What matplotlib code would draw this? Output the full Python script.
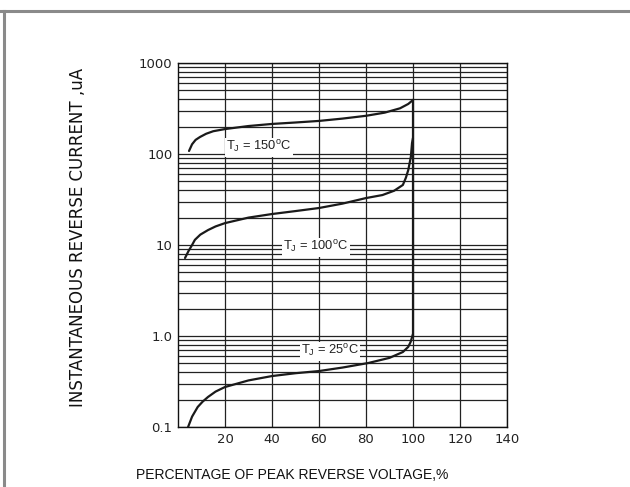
import matplotlib.pyplot as plt
from matplotlib.lines import Line2D
from matplotlib.ticker import FixedLocator, NullFormatter, LogLocator

# percentage of peak reverse voltage (%) and reverse current (uA)
x_150 = [4.7, 6.0, 7.5, 9.4, 12, 15, 20, 30, 40, 50, 60, 70, 80, 88, 94.5, 98, 100]
y_150 = [108, 128, 143, 154, 167, 178, 188, 203, 214, 222, 231, 245, 263, 285, 318, 355, 392]

x_100 = [3.0, 4.5, 6.0, 7.2, 9.5, 12.8, 16, 20, 30, 40, 50, 60, 70, 80, 87, 92, 95.7, 97, 98, 99.1, 99.6, 100]
y_100 = [7.2, 8.6, 10.0, 11.4, 13.0, 14.6, 16.0, 17.4, 20.0, 21.9, 23.6, 25.5, 28.5, 32.8, 35.4, 39.5, 45.7, 55, 66.7, 93, 132, 150]

x_25 = [4.3, 6.0, 8.4, 10.5, 12.8, 16, 20, 30, 40, 50, 60, 70, 81, 90, 95.7, 98, 99, 100]
y_25 = [0.1, 0.13, 0.166, 0.19, 0.214, 0.245, 0.275, 0.325, 0.363, 0.39, 0.412, 0.45, 0.505, 0.575, 0.667, 0.76, 0.86, 1.05]

# breakdown line at 100 %
x_bd = [100, 100]
y_bd = [1.0, 392]

labels = [r"T$_\mathregular{J}$ = 150$^\mathregular{o}$C",
          r"T$_\mathregular{J}$ = 100$^\mathregular{o}$C",
          r"T$_\mathregular{J}$ = 25$^\mathregular{o}$C"]
label_x = [34.5, 58.7, 64.7]
label_y = [119, 9.5, 0.68]

x_ticks = [20, 40, 60, 80, 100, 120, 140]
y_ticks = [0.1, 1, 10, 100, 1000]
y_ticklabels = ["0.1", "1.0", "10", "100", "1000"]

fig = plt.figure(figsize=(6.3, 4.87), dpi=100)
ax = fig.add_axes([0.2825, 0.1232, 0.5222, 0.7474])

ax.set_yscale("log")
ax.set_xlim(0, 140)
ax.set_ylim(0.1, 1000)

ax.xaxis.set_major_locator(FixedLocator(x_ticks))
ax.yaxis.set_major_locator(FixedLocator(y_ticks))
ax.yaxis.set_minor_locator(LogLocator(base=10, subs=range(2, 10)))
ax.yaxis.set_minor_formatter(NullFormatter())
ax.set_yticklabels(y_ticklabels)
ax.tick_params(which="both", length=0, labelsize=9.5, colors="#222222", pad=4)

ax.grid(True, which="major", axis="both", color="#222222", lw=0.9)
ax.grid(True, which="minor", axis="y", color="#222222", lw=0.9)
for s in ax.spines.values():
    s.set_color("#111111")
    s.set_linewidth(1.0)

lc = "#1a1a1a"
ax.plot(x_150, y_150, color=lc, lw=1.6, solid_capstyle="round", zorder=3)
ax.plot(x_100, y_100, color=lc, lw=1.6, solid_capstyle="round", zorder=3)
ax.plot(x_25, y_25, color=lc, lw=1.6, solid_capstyle="round", zorder=3)
ax.plot(x_bd, y_bd, color=lc, lw=1.6, zorder=3)

for t, lx, ly in zip(labels, label_x, label_y):
    ax.text(lx, ly, t, ha="center", va="center", fontsize=9.3, family="Liberation Sans",
            color="#222222", zorder=4,
            bbox=dict(facecolor="white", edgecolor="none", pad=1.0))

fig.text(0.124, 0.513, "INSTANTANEOUS REVERSE CURRENT ,uA", rotation=90,
         ha="center", va="center", fontsize=12, family="DejaVu Sans", color="#111111")
fig.text(0.463, 0.025, "PERCENTAGE OF PEAK REVERSE VOLTAGE,%", ha="center", va="center",
         fontsize=10, family=["Liberation Sans Narrow", "Liberation Sans"], color="#111111")

# frame of the picture (top and left edge)
fig.add_artist(Line2D([0.0, 1.0], [1 - 10.5 / 487, 1 - 10.5 / 487], transform=fig.transFigure,
                      color="#8a8a8a", lw=2.2))
fig.add_artist(Line2D([3.8 / 630, 3.8 / 630], [0.0, 1 - 10.5 / 487], transform=fig.transFigure,
                      color="#8a8a8a", lw=2.2))

plt.savefig("out.png", dpi=100)
